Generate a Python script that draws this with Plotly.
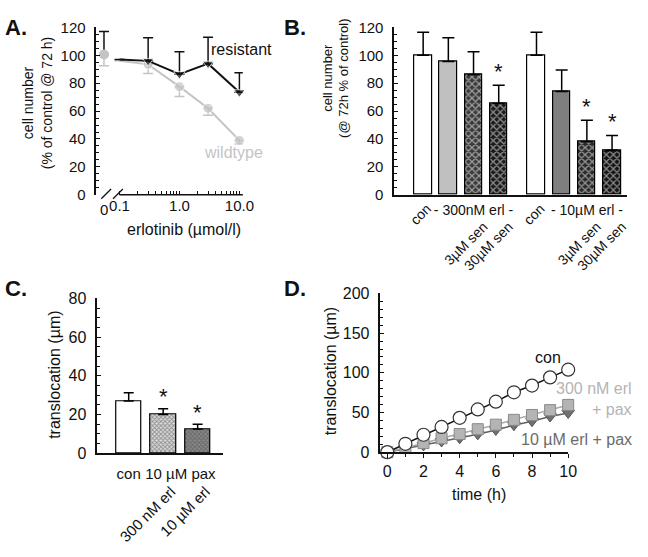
import math
import plotly.graph_objects as go

W, H = 648, 557
FONT = "Liberation Sans, Arial, sans-serif"

# ---------------- Panel A data ----------------
a_conc = [0.1, 0.3, 1.0, 3.0, 10.0]
a_res = [97, 96, 86.5, 94, 73.5]
a_res_err = [0, 16.5, 16, 19, 14]
a_wt = [96, 93.5, 77.5, 62, 39]
a_wt_err = [0, 6.5, 7, 5, 2.5]
a_zero_label = "0"
a_zero_mean = 100.5
a_zero_res_err = 16.5
a_zero_wt_err = 8
a_xticks = [0.1, 1.0, 10.0]
a_xticktext = ["0.1", "1.0", "10.0"]

# ---------------- Panel B data ----------------
b_groups = ["- 300nM erl -", "- 10µM erl -"]
b_labels = ["con", "", "3µM sen", "30µM sen", "con", "", "3µM sen", "30µM sen"]
b_values = [100, 95.5, 86, 65.5, 100, 74, 38, 32]
b_err = [16.5, 17, 16.5, 13, 16.5, 15.5, 15.5, 10.5]
b_sig = [False, False, False, True, False, False, True, True]

# ---------------- Panel C data ----------------
c_group = "10 µM pax"
c_labels = ["con", "300 nM erl", "10 µM erl"]
c_values = [27, 20, 12.5]
c_err = [4.2, 3, 2.5]
c_sig = [False, True, True]

# ---------------- Panel D data ----------------
d_time = [0, 1, 2, 3, 4, 5, 6, 7, 8, 9, 10]
d_con = [0, 10.6, 22, 31.8, 43.3, 53.9, 63.7, 75.5, 84, 94.3, 104]
d_erl300 = [0, 5.5, 11.4, 17.5, 22.9, 29, 34.7, 40.8, 46.9, 53, 59.6]
d_erl10 = [0, 4.5, 8.6, 13.5, 17.5, 22.5, 28, 34, 39, 45, 49.4]
d_names = ["con", "300 nM erl<br>+ pax", "10 µM erl + pax"]


def px(x):
    return x / W


def py(y):
    return 1 - y / H


fig = go.Figure()

# ---------- A ----------
A_ZERO_POS = 0.055
a_range = [math.log10(0.041), math.log10(11.4)]
fig.add_trace(go.Scatter(
    x=a_conc, y=a_wt, mode="lines+markers", xaxis="x", yaxis="y",
    line=dict(color="#c4c4c4", width=2),
    marker=dict(symbol="circle", size=[0, 10, 10, 10, 10], color="#c4c4c4"),
    error_y=dict(type="data", symmetric=False, array=[0] * 5, arrayminus=a_wt_err,
                 color="#c4c4c4", thickness=1.5, width=5),
    cliponaxis=False, showlegend=False))
fig.add_trace(go.Scatter(
    x=a_conc, y=a_res, mode="lines+markers", xaxis="x", yaxis="y",
    line=dict(color="#111111", width=2),
    marker=dict(symbol="triangle-down", size=[0, 10, 10, 10, 10], color="#111111"),
    error_y=dict(type="data", symmetric=False, array=a_res_err, arrayminus=[0] * 5,
                 color="#111111", thickness=1.5, width=5),
    cliponaxis=False, showlegend=False))
fig.add_trace(go.Scatter(
    x=[A_ZERO_POS], y=[a_zero_mean], mode="markers", xaxis="x", yaxis="y",
    marker=dict(size=0, color="#111111"),
    error_y=dict(type="data", symmetric=False, array=[a_zero_res_err], arrayminus=[0],
                 color="#111111", thickness=1.5, width=5),
    cliponaxis=False, showlegend=False))
fig.add_trace(go.Scatter(
    x=[A_ZERO_POS], y=[a_zero_mean], mode="markers", xaxis="x", yaxis="y",
    marker=dict(size=10, color="#c4c4c4"),
    error_y=dict(type="data", symmetric=False, array=[0], arrayminus=[a_zero_wt_err],
                 color="#c4c4c4", thickness=1.5, width=5),
    cliponaxis=False, showlegend=False))

a_minor = [m * 10 ** e for e in (-1, 0) for m in range(1, 10)] + [10.0]
a_ticktext = [a_xticktext[a_xticks.index(v)] if v in a_xticks else "" for v in a_minor]

# ---------- B ----------
b_pos = []
for i in range(len(b_values)):
    g, k = divmod(i, 4)
    b_pos.append(g * 4.5 + k)
b_group_pos = [sum(b_pos[g * 4 + 1:g * 4 + 4]) / 3 for g in range(2)]

b_fill = ["#ffffff", "#c0c0c0", "#3a3a3a", "#1a1a1a", "#ffffff", "#7f7f7f", "#2a2a2a", "#141414"]
b_fg = ["#000000", "#000000", "#b8b8b8", "#5a5a5a", "#000000", "#000000", "#8a8a8a", "#4a4a4a"]
b_shape = ["", "", "x", "x", "", "", "x", "x"]
fig.add_trace(go.Bar(
    x=b_pos, y=b_values, width=0.7, xaxis="x2", yaxis="y2",
    marker=dict(color=b_fill, line=dict(color="#000000", width=1.2),
                pattern=dict(shape=b_shape, fgcolor=b_fg, bgcolor=b_fill, size=5, solidity=0.45)),
    error_y=dict(type="data", symmetric=False, array=b_err, arrayminus=[0] * len(b_err),
                 color="#000000", thickness=1.5, width=6),
    showlegend=False))

# ---------- C ----------
c_pos = list(range(len(c_values)))
c_fill = ["#ffffff", "#dadada", "#8a8a8a"]
c_fg = ["#000000", "#8c8c8c", "#3c3c3c"]
c_shape = ["", "x", "x"]
fig.add_trace(go.Bar(
    x=c_pos, y=c_values, width=0.74, xaxis="x5", yaxis="y3",
    marker=dict(color=c_fill, line=dict(color="#000000", width=1.2),
                pattern=dict(shape=c_shape, fgcolor=c_fg, bgcolor=c_fill, size=3, solidity=0.5)),
    error_y=dict(type="data", symmetric=False, array=c_err, arrayminus=[0] * len(c_err),
                 color="#000000", thickness=1.5, width=5),
    showlegend=False))

# invisible carriers so the overlaid label axes are drawn
for xa, ya, xs, ys in (("x3", "y2", b_pos, b_values), ("x4", "y2", b_pos, b_values),
                       ("x6", "y3", c_pos, c_values)):
    fig.add_trace(go.Scatter(x=xs, y=ys, xaxis=xa, yaxis=ya, mode="markers",
                             marker=dict(opacity=0, size=1), hoverinfo="skip", showlegend=False))

# ---------- D ----------
fig.add_trace(go.Scatter(
    x=d_time, y=d_erl10, mode="lines+markers", xaxis="x7", yaxis="y4",
    line=dict(color="#606060", width=1.5),
    marker=dict(symbol="triangle-down", size=11, color="#707070", line=dict(color="#555555", width=1)),
    cliponaxis=False, showlegend=False))
fig.add_trace(go.Scatter(
    x=d_time, y=d_erl300, mode="lines+markers", xaxis="x7", yaxis="y4",
    line=dict(color="#a8a8a8", width=1.5),
    marker=dict(symbol="square", size=11, color="#b4b4b4", line=dict(color="#8a8a8a", width=1)),
    cliponaxis=False, showlegend=False))
fig.add_trace(go.Scatter(
    x=d_time, y=d_con, mode="lines+markers", xaxis="x7", yaxis="y4",
    line=dict(color="#111111", width=1.5),
    marker=dict(symbol="circle", size=13, color="#ffffff", line=dict(color="#333333", width=1.2)),
    cliponaxis=False, showlegend=False))

# ---------- axes ----------
axis_common = dict(showgrid=False, zeroline=False, showline=True, linecolor="#111111",
                   linewidth=1.5, tickcolor="#111111", tickfont=dict(family=FONT, color="#111111"))

yA = dict(axis_common, domain=[py(192), py(19)], range=[0, 120], dtick=20, anchor="x",
          ticks="inside", ticklen=4, tickwidth=1, tickfont=dict(family=FONT, size=15, color="#111111"),
          minor=dict(dtick=5, ticks="inside", ticklen=3, tickcolor="#111111"),
          ticklabelstandoff=6)
xA = dict(showgrid=False, zeroline=False, showline=False, type="log", range=a_range,
          domain=[px(98), px(247)], anchor="y", tickvals=a_minor, ticktext=a_ticktext,
          ticks="inside", ticklen=4, tickwidth=1, tickcolor="#111111",
          tickfont=dict(family=FONT, size=15, color="#111111"), tickangle=0)

xB = dict(axis_common, domain=[px(401), px(638)], range=[-1.15, 8.1], anchor="y2",
          tickvals=b_group_pos, ticktext=b_groups, ticks="", tickangle=0,
          tickfont=dict(family=FONT, size=14, color="#111111"), ticklabelstandoff=2)
xB_con = dict(showgrid=False, zeroline=False, showline=False, overlaying="x2", anchor="y2",
              range=[-1.15, 8.1],
              tickvals=[p for p, l in zip(b_pos, b_labels) if l == "con"],
              ticktext=[l for l in b_labels if l == "con"], ticks="", tickangle=-45,
              tickfont=dict(family=FONT, size=14, color="#111111"), ticklabelstandoff=2,
              ticklabelshift=4)
xB_sen = dict(showgrid=False, zeroline=False, showline=False, overlaying="x2", anchor="y2",
              range=[-1.15, 8.1],
              tickvals=[p for p, l in zip(b_pos, b_labels) if l not in ("con", "")],
              ticktext=[l for l in b_labels if l not in ("con", "")], ticks="", tickangle=-45,
              tickfont=dict(family=FONT, size=14, color="#111111"), ticklabelstandoff=20,
              ticklabelshift=10)
yB = dict(axis_common, domain=[py(192), py(19)], range=[0, 120], dtick=20, anchor="x2",
          ticks="inside", ticklen=4, tickwidth=1, tickfont=dict(family=FONT, size=15, color="#111111"),
          minor=dict(dtick=5, ticks="inside", ticklen=3, tickcolor="#111111"),
          ticklabelstandoff=6)

xC = dict(axis_common, domain=[px(99), px(227)], range=[-0.91, 2.74], anchor="y3",
          tickvals=[c_pos[0], sum(c_pos[1:]) / 2], ticktext=[c_labels[0], c_group], ticks="",
          tickangle=0, tickfont=dict(family=FONT, size=15, color="#111111"), ticklabelstandoff=6)
xC_rot = dict(showgrid=False, zeroline=False, showline=False, overlaying="x5", anchor="y3",
              range=[-0.91, 2.74], tickvals=c_pos[1:], ticktext=c_labels[1:], ticks="",
              tickangle=-45, tickfont=dict(family=FONT, size=15, color="#111111"),
              ticklabelstandoff=26, ticklabelshift=8)
yC = dict(axis_common, domain=[py(459), py(299)], range=[0, 80], dtick=20, anchor="x5",
          ticks="inside", ticklen=4, tickwidth=1, tickfont=dict(family=FONT, size=16, color="#111111"),
          minor=dict(dtick=5, ticks="inside", ticklen=3, tickcolor="#111111"),
          ticklabelstandoff=6)

xD = dict(axis_common, domain=[px(387), px(578)], range=[-0.38, 10.0], anchor="y4",
          dtick=2, ticks="outside", ticklen=4, tickwidth=1,
          tickfont=dict(family=FONT, size=16, color="#111111"),
          minor=dict(dtick=1, ticks="outside", ticklen=3, tickcolor="#111111"),
          ticklabelstandoff=0)
yD = dict(axis_common, domain=[py(458), py(294)], range=[0, 200], dtick=50, anchor="x7",
          ticks="inside", ticklen=4, tickwidth=1, tickfont=dict(family=FONT, size=16, color="#111111"),
          minor=dict(dtick=10, ticks="inside", ticklen=3, tickcolor="#111111"),
          ticklabelstandoff=6)

# ---------- shapes (broken axis in A) ----------
def dom(v):
    return (math.log10(v) - a_range[0]) / (a_range[1] - a_range[0])


shapes = [
    dict(type="line", xref="x domain", yref="y domain", x0=dom(a_conc[0]), x1=1, y0=0, y1=0,
         line=dict(color="#111111", width=1.5)),
    dict(type="line", xref="paper", yref="paper", x0=px(103), y0=py(196), x1=px(113), y1=py(186),
         line=dict(color="#111111", width=1.3)),
    dict(type="line", xref="paper", yref="paper", x0=px(115), y0=py(196), x1=px(125), y1=py(186),
         line=dict(color="#111111", width=1.3)),
]

# ---------- annotations ----------
ann = []


def text(x, y, t, size=16, color="#111111", xanchor="center", yanchor="middle", angle=0,
         bold=False, align="center"):
    ann.append(dict(x=px(x), y=py(y), xref="paper", yref="paper", text=("<b>%s</b>" % t) if bold else t,
                    showarrow=False, xanchor=xanchor, yanchor=yanchor, textangle=angle, align=align,
                    font=dict(family=FONT, size=size, color=color)))


# panel letters
text(3, 19, "A.", size=22, xanchor="left", bold=True)
text(287, 19, "B.", size=22, xanchor="left", bold=True)
text(3, 289, "C.", size=22, xanchor="left", bold=True)
text(287, 289, "D.", size=22, xanchor="left", bold=True)

# A
ann.append(dict(x=math.log10(A_ZERO_POS), y=0, xref="x", yref="y", text=a_zero_label, showarrow=False,
                yanchor="top", yshift=-4, font=dict(family=FONT, size=15, color="#111111")))
text(187, 228, "erlotinib (µmol/l)", size=16)
text(38, 97, "cell number<br>(% of control @ 72 h)", size=14, angle=-90)
text(213, 42, "resistant", size=16, xanchor="left")
text(205, 148, "wildtype", size=16, color="#c4c4c4", xanchor="left")

# B
text(341, 72, "cell number<br>(@ 72h % of control)", size=13, angle=-90)
for p, v, e, s in zip(b_pos, b_values, b_err, b_sig):
    if s:
        ann.append(dict(x=p, y=v + e, xref="x2", yref="y2", text="*", showarrow=False,
                        yanchor="middle", yshift=14, font=dict(family=FONT, size=22, color="#111111")))

# C
text(56, 378, "translocation (µm)", size=16, angle=-90)
for p, v, e, s in zip(c_pos, c_values, c_err, c_sig):
    if s:
        ann.append(dict(x=p, y=v + e, xref="x5", yref="y3", text="*", showarrow=False,
                        yanchor="middle", yshift=12, font=dict(family=FONT, size=22, color="#111111")))

# D
text(337, 374, "translocation (µm)", size=16, angle=-90)
text(487, 502, "time (h)", size=16)
text(573, 360, d_names[0], size=16, xanchor="right")
text(645, 403, d_names[1], size=16, color="#b4b4b4", xanchor="right", align="right")
text(645, 445, d_names[2], size=16, color="#6b6b6b", xanchor="right")

fig.update_layout(
    width=W, height=H, margin=dict(l=0, r=0, t=0, b=0),
    paper_bgcolor="#ffffff", plot_bgcolor="#ffffff",
    xaxis=xA, yaxis=yA,
    xaxis2=xB, xaxis3=xB_con, xaxis4=xB_sen, yaxis2=yB,
    xaxis5=xC, xaxis6=xC_rot, yaxis3=yC,
    xaxis7=xD, yaxis4=yD,
    shapes=shapes, annotations=ann, showlegend=False, bargap=0,
    font=dict(family=FONT, color="#111111"),
)

fig.write_html("out.html", config={"displayModeBar": False},
               post_script="document.body.style.margin='0';document.body.style.overflow='hidden';")
